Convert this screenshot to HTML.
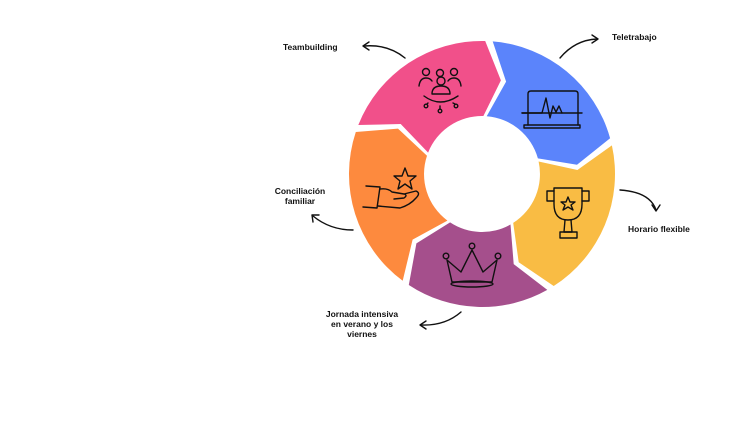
<!DOCTYPE html>
<html><head><meta charset="utf-8"><style>
html,body{margin:0;padding:0;background:#fff;width:740px;height:421px;overflow:hidden}
svg{display:block}
text{font-family:"Liberation Sans",sans-serif;font-weight:bold;font-size:8.5px;fill:#111}
</style></head><body>
<svg id="s" width="740" height="421" viewBox="0 0 740 421" xmlns="http://www.w3.org/2000/svg">
<g id="segs"></g>
<g fill="none" stroke="#111" stroke-width="1.4" stroke-linecap="round" stroke-linejoin="round">
<path d="M405 58 Q388 44 364 46"/><path d="M369 42 L363 46 L369 50"/>
<path d="M560 58 Q575 40 597 39"/><path d="M592 35 L598 39 L592 43"/>
<path d="M620 190 Q650 192 656 210"/><path d="M652 205 L656 211 L660 205"/>
<path d="M353 230 Q330 230 313 216"/><path d="M313 222 L312 215 L319 215"/>
<path d="M461 312 Q445 326 421 325"/><path d="M426 321 L420 325 L426 329"/>
<circle cx="426" cy="72" r="3.5"/><circle cx="440" cy="73" r="3.5"/><circle cx="454" cy="72" r="3.5"/>
<circle cx="441" cy="81" r="4"/>
<path d="M419 86 Q420 78 426 78 Q430 78 432 81"/><path d="M461 86 Q460 78 454 78 Q450 78 448 81"/>
<path d="M432 94 Q432 86 441 86 Q450 86 450 94 Z"/>
<path d="M424 96 Q440 108 458 96"/>
<circle cx="426" cy="106" r="1.8"/><circle cx="440" cy="111" r="1.8"/><circle cx="456" cy="106" r="1.8"/>
<path d="M428 103 L427 104 M440 106 L440 109 M453 103 L455 104"/>
<path d="M528 113 L528 94 Q528 91 531 91 L575 91 Q578 91 578 94 L578 113"/>
<path d="M522 113 L582 113"/><path d="M524 125 L580 125 L580 128 L524 128 Z"/>
<path d="M528 113 L528 125 M578 113 L578 125"/>
<path d="M522 113 L542 113 L546 98 L550 118 L553 106 L556 112 L559 106 L562 113"/>
<path d="M554 188 L582 188 L582 204 Q582 220 568 220 Q554 220 554 204 Z"/>
<path d="M554 191 L547 191 L547 201 L554 201"/><path d="M582 191 L589 191 L589 201 L582 201"/>
<path d="M565 220 L564 232 L572 232 L571 220"/><path d="M560 232 L577 232 L577 238 L560 238 Z"/>
<path d="M568 197 L570 202 L575 202 L571 205 L573 210 L568 207 L563 210 L565 205 L561 202 L566 202 Z"/>
<path d="M447 260 L452 282 L492 282 L497 260 L483 272 L472 250 L461 272 Z"/>
<ellipse cx="472" cy="284" rx="21" ry="3"/>
<circle cx="446" cy="256" r="2.8"/><circle cx="472" cy="246" r="2.8"/><circle cx="498" cy="256" r="2.8"/>
<path d="M405 168 L408 176 L416 176 L410 181 L412 189 L405 184 L398 189 L400 181 L394 176 L402 176 Z"/>
<path d="M366 186 L380 187 L377 208 L363 207"/>
<path d="M380 189 Q388 188 392 192 L404 194 Q408 195 404 198 L394 199 M404 194 L416 191 Q421 193 416 198 Q410 205 400 208 L378 206"/>
</g>
<text x="283" y="50">Teambuilding</text>
<text x="612" y="40">Teletrabajo</text>
<text x="628" y="232">Horario flexible</text>
<text x="300" y="194" text-anchor="middle">Conciliación</text>
<text x="300" y="204" text-anchor="middle">familiar</text>
<text x="362" y="317" text-anchor="middle">Jornada intensiva</text>
<text x="362" y="327" text-anchor="middle">en verano y los</text>
<text x="362" y="337" text-anchor="middle">viernes</text>
</svg>
<script>
(function(){
var cx=482,cy=174,R=133,r=58,m=(R+r)/2,g=1.6,t=10;
var b=[-87,-14,59,125,200,273];
var cols=["#5B84FB","#F9BC44","#A54F8C","#FD8A3E","#F1508A"];
function p(a,rad){a=a*Math.PI/180;return (cx+rad*Math.cos(a)).toFixed(1)+" "+(cy+rad*Math.sin(a)).toFixed(1);}
var out="";
for(var i=0;i<5;i++){
 var a0=b[i]+g,a1=b[i+1]-g;
 var d="M"+p(a0,R)+" A"+R+" "+R+" 0 0 1 "+p(a1,R)+" L"+p(a1+t,m)+" L"+p(a1,r)+
 " A"+r+" "+r+" 0 0 0 "+p(a0,r)+" L"+p(a0+t,m)+" Z";
 out+='<path d="'+d+'" fill="'+cols[i]+'"/>';
}
document.getElementById("segs").innerHTML=out;
})();
</script>
</body></html>
